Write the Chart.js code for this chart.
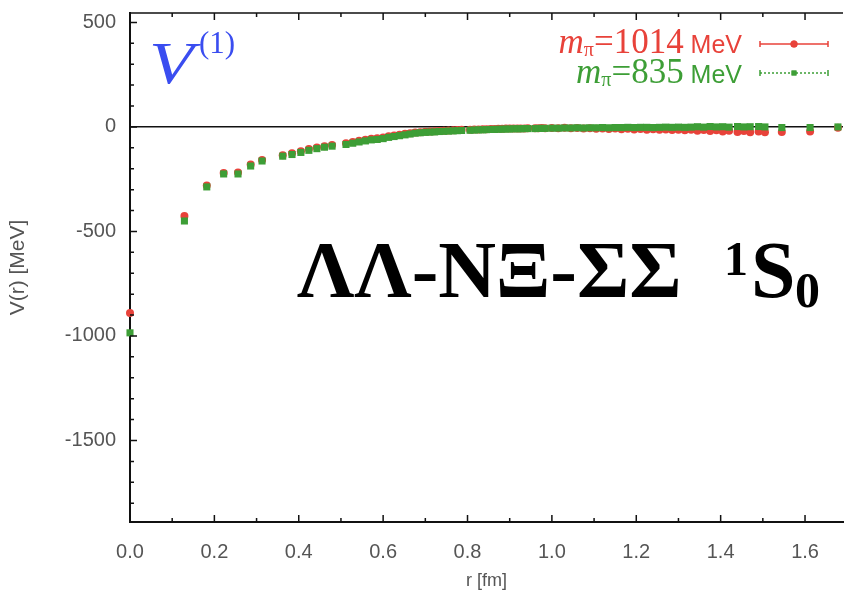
<!DOCTYPE html>
<html>
<head>
<meta charset="utf-8">
<script src="https://cdn.jsdelivr.net/npm/chart.js@4.4.1/dist/chart.umd.min.js"></script>
<style>
  body { margin: 0; background: #fff; }
  #wrap { position: relative; width: 848px; height: 600px; overflow: hidden; }
  #chart { position: absolute; left: 0; top: 0; }
  .txt { position: absolute; white-space: pre; line-height: 1; }
  .serif { font-family: "Liberation Serif", "DejaVu Serif", serif; }
  .sans { font-family: "Liberation Sans", Arial, sans-serif; }
</style>
</head>
<body>
<div id="wrap">
  <canvas id="chart" width="848" height="600"></canvas>

  <div class="txt serif" style="left:149px; top:33px; font-size:60px; font-style:italic; color:#3a4df0; transform:scaleX(1.22); transform-origin:left top;">V</div>
  <div class="txt serif" style="left:199px; top:27px; font-size:31px; color:#3a4df0;">(1)</div>

  <div class="txt serif" id="leg1" style="right:106px; top:24px; font-size:35px; color:#e8423a;"><i>m</i><span style="font-size:20px; position:relative; top:3px;">π</span>=1014<span class="sans" style="font-size:25px;"> MeV</span></div>
  <div class="txt serif" id="leg2" style="right:106px; top:54px; font-size:35px; color:#3d9e36;"><i>m</i><span style="font-size:20px; position:relative; top:3px;">π</span>=835<span class="sans" style="font-size:25px;"> MeV</span></div>

  <div class="txt serif" style="left:297px; top:230px; font-size:80px; font-weight:bold; color:#000;">ΛΛ-NΞ-ΣΣ</div>
  <div class="txt serif" style="left:724px; top:235px; font-size:48px; font-weight:bold; color:#000;">1</div>
  <div class="txt serif" style="left:751px; top:230px; font-size:80px; font-weight:bold; color:#000;">S</div>
  <div class="txt serif" style="left:795px; top:265px; font-size:50px; font-weight:bold; color:#000;">0</div>
</div>

<script>
// distancias r [fm] (comunes a las dos series)
const r = [
  0, 0.129, 0.182, 0.222, 0.256, 0.286, 0.313, 0.362, 0.384, 0.405,
  0.424, 0.443, 0.461, 0.479, 0.512, 0.528, 0.543, 0.558, 0.572, 0.586,
  0.600, 0.613, 0.626, 0.639, 0.652, 0.664, 0.676, 0.688, 0.700, 0.711,
  0.722, 0.733, 0.744, 0.755, 0.766, 0.776, 0.786, 0.806, 0.816, 0.826,
  0.836, 0.845, 0.855, 0.864, 0.873, 0.882, 0.891, 0.900, 0.909, 0.918,
  0.926, 0.935, 0.943, 0.960, 0.968, 0.976, 0.984, 1.000, 1.015, 1.030,
  1.045, 1.060, 1.075, 1.090, 1.105, 1.120, 1.135, 1.150, 1.165, 1.180,
  1.195, 1.210, 1.225, 1.240, 1.255, 1.270, 1.285, 1.300, 1.315, 1.330,
  1.345, 1.360, 1.375, 1.390, 1.405, 1.420, 1.440, 1.455, 1.470, 1.490,
  1.505, 1.545, 1.612, 1.678
];

// V(r) [MeV] con m_pi = 1014 MeV
const v1014 = [
  -890, -426, -280, -220, -218, -180, -158, -135, -126, -116,
  -106, -98, -92, -86, -78, -72, -66, -61, -57, -54,
  -50, -45, -41, -37, -33, -30, -27, -25, -23, -22,
  -21, -19, -18, -17, -16, -15, -14, -13, -12, -12,
  -11, -11, -10, -10, -9, -9, -8, -8, -7, -8,
  -7, -7, -6, -6, -6, -5, -6, -5, -6, -4,
  -6, -5, -8, -6, -9, -7, -10, -8, -11, -9,
  -12, -10, -13, -11, -14, -12, -15, -13, -16, -14,
  -18, -15, -20, -16, -22, -18, -24, -20, -26, -22,
  -25, -24, -22, -4
];

// V(r) [MeV] con m_pi = 835 MeV
const v835 = [
  -985, -450, -287, -225, -225, -187, -163, -140, -132, -122,
  -112, -104, -97, -92, -84, -78, -72, -67, -62, -60,
  -56, -50, -46, -42, -38, -34, -30, -28, -26, -25,
  -24, -22, -21, -20, -19, -18, -17, -16, -15, -14,
  -14, -13, -12, -12, -11, -11, -10, -10, -9, -9,
  -9, -8, -8, -8, -7, -7, -7, -6, -6, -5,
  -5, -4, -5, -4, -4, -3, -4, -3, -3, -2,
  -3, -2, -2, -3, -2, -1, -2, -1, -2, -1,
  1, -1, 2, 0, 1, -1, 2, 0, 1, 2,
  0, -3, -3, 0
];

const xTicks = [0, 0.2, 0.4, 0.6, 0.8, 1.0, 1.2, 1.4, 1.6];
const yTicks = [-1500, -1000, -500, 0, 500];

const ROJO = "#e8423a";
const VERDE = "#3d9e36";

const toPts = vals => r.map((x, i) => ({ x: x, y: vals[i] }));

// marco estilo gnuplot: borde superior, ticks hacia adentro y muestras de la leyenda
const marco = {
  id: "marco",
  afterDraw(chart) {
    const { ctx, chartArea: a, scales: { x, y } } = chart;
    ctx.save();
    ctx.strokeStyle = "#111";
    ctx.lineWidth = 1.5;
    ctx.beginPath();
    ctx.moveTo(a.left, a.top);
    ctx.lineTo(a.right, a.top);
    // ticks x cada 0.1
    for (let i = 0; i <= 16; i++) {
      const px = x.getPixelForValue(i / 10);
      const len = i % 2 ? 4 : 7;
      ctx.moveTo(px, a.bottom); ctx.lineTo(px, a.bottom - len);
      ctx.moveTo(px, a.top); ctx.lineTo(px, a.top + len);
    }
    // ticks y cada 100
    for (let v = -1800; v <= 500; v += 100) {
      const py = y.getPixelForValue(v);
      const len = v % 500 ? 4 : 7;
      ctx.moveTo(a.left, py); ctx.lineTo(a.left + len, py);
    }
    ctx.stroke();

    // muestras de la leyenda
    const muestra = (yy, color, dash, style) => {
      ctx.strokeStyle = color;
      ctx.fillStyle = color;
      ctx.lineWidth = 1.5;
      ctx.setLineDash(dash);
      ctx.beginPath();
      ctx.moveTo(760, yy); ctx.lineTo(828, yy);
      ctx.stroke();
      ctx.setLineDash([]);
      ctx.beginPath();
      ctx.moveTo(760, yy - 3); ctx.lineTo(760, yy + 3);
      ctx.moveTo(828, yy - 3); ctx.lineTo(828, yy + 3);
      ctx.stroke();
      Chart.helpers.drawPoint(ctx, { pointStyle: style, radius: 3.5, borderWidth: 0 }, 794, yy);
      ctx.fill();
    };
    muestra(44, ROJO, [], "circle");
    muestra(73, VERDE, [2, 2], "rect");
    ctx.restore();
  }
};

const ctx = document.getElementById("chart").getContext("2d");
new Chart(ctx, {
  type: "scatter",
  data: {
    datasets: [
      {
        label: "m_pi=1014 MeV",
        data: toPts(v1014),
        backgroundColor: ROJO,
        borderWidth: 0,
        pointStyle: "circle",
        pointRadius: 4,
        clip: false,
        order: 2
      },
      {
        label: "m_pi=835 MeV",
        data: toPts(v835),
        backgroundColor: VERDE,
        borderWidth: 0,
        pointStyle: "rect",
        pointRadius: 5,
        clip: false,
        order: 1
      }
    ]
  },
  options: {
    responsive: false,
    animation: false,
    devicePixelRatio: 1,
    layout: { padding: { top: 13, right: 0, left: 0, bottom: 0 } },
    plugins: { legend: { display: false }, tooltip: { enabled: false } },
    scales: {
      x: {
        type: "linear",
        min: 0,
        max: 1.69,
        afterBuildTicks: s => { s.ticks = xTicks.map(v => ({ value: v })); },
        afterFit: s => { s.height = 78; s.paddingLeft = 0; s.paddingRight = 0; },
        grid: { drawOnChartArea: false, drawTicks: false },
        border: { color: "#111", width: 2 },
        ticks: {
          padding: 18,
          color: "#555",
          font: { family: "Liberation Sans", size: 20 },
          maxRotation: 0,
          callback: v => Number(v).toFixed(1)
        },
        title: {
          display: true,
          text: "r [fm]",
          color: "#555",
          font: { family: "Liberation Sans", size: 18 },
          padding: { top: 0, bottom: 8 }
        }
      },
      y: {
        type: "linear",
        min: -1890,
        max: 545,
        afterBuildTicks: s => { s.ticks = yTicks.map(v => ({ value: v })); },
        afterFit: s => { s.width = 130; s.paddingTop = 0; s.paddingBottom = 0; },
        grid: {
          drawTicks: false,
          color: c => (c.tick && c.tick.value === 0 ? "#111" : "rgba(0,0,0,0)"),
          lineWidth: 1.5
        },
        border: { color: "#111", width: 2 },
        ticks: {
          padding: 14,
          color: "#555",
          font: { family: "Liberation Sans", size: 20 },
          callback: v => String(v)
        },
        title: {
          display: true,
          text: "V(r) [MeV]",
          color: "#555",
          font: { family: "Liberation Sans", size: 21 },
          padding: { top: 6, bottom: 0 }
        }
      }
    }
  },
  plugins: [marco]
});
</script>
</body>
</html>
